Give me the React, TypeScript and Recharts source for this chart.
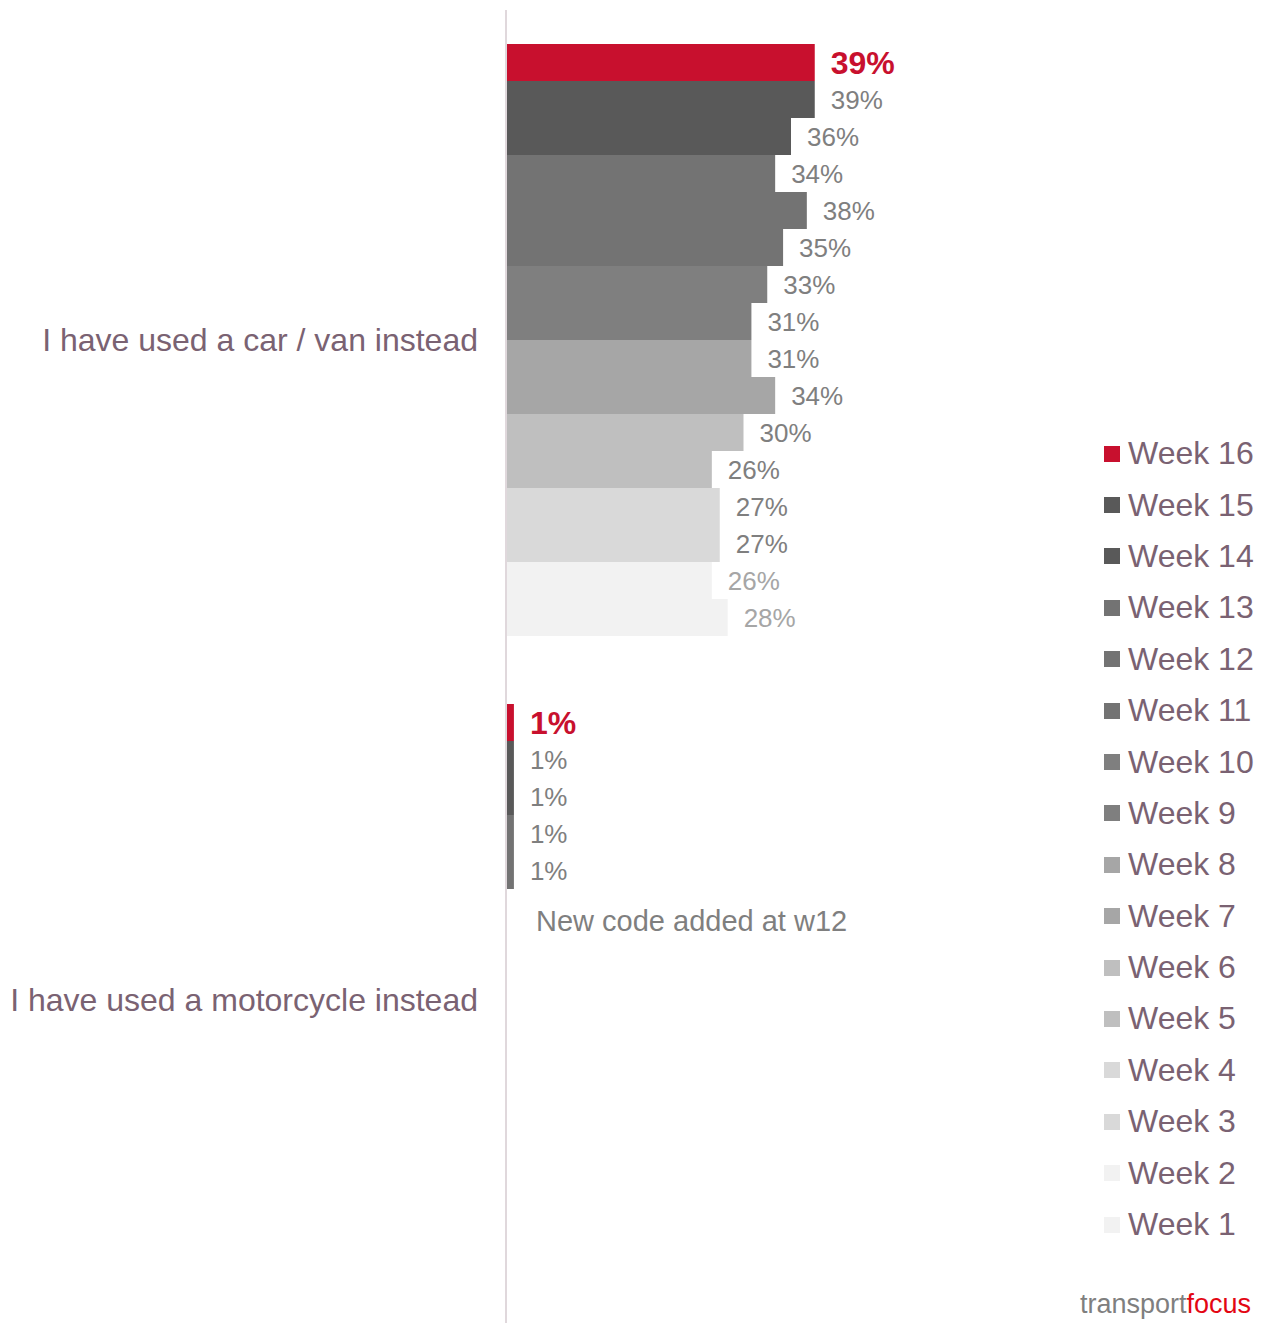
import React from 'react';
import { BarChart, Bar, XAxis, YAxis, Legend, LabelList } from 'recharts';

// categories (y axis)
const categories = ['I have used a car / van instead', 'I have used a motorcycle instead'];

// weeks, top bar first
const weeks = ['Week 16', 'Week 15', 'Week 14', 'Week 13', 'Week 12', 'Week 11', 'Week 10', 'Week 9',
    'Week 8', 'Week 7', 'Week 6', 'Week 5', 'Week 4', 'Week 3', 'Week 2', 'Week 1'];

// values in %, same order as weeks
const carVan = [39, 39, 36, 34, 38, 35, 33, 31, 31, 34, 30, 26, 27, 27, 26, 28];
const motorcycle = [1, 1, 1, 1, 1, null, null, null, null, null, null, null, null, null, null, null];

const weekColors = ['#c8102e', '#595959', '#595959', '#737373', '#737373', '#737373', '#7f7f7f', '#7f7f7f',
    '#a6a6a6', '#a6a6a6', '#bfbfbf', '#bfbfbf', '#d9d9d9', '#d9d9d9', '#f2f2f2', '#f2f2f2'];

const labelColors = ['#c8102e', '#7f7f7f', '#7f7f7f', '#7f7f7f', '#7f7f7f', '#7f7f7f', '#7f7f7f', '#7f7f7f',
    '#7f7f7f', '#7f7f7f', '#7f7f7f', '#7f7f7f', '#7f7f7f', '#7f7f7f', '#a6a6a6', '#a6a6a6'];

const seriesLists = [carVan, motorcycle];

const data = categories.map((name, ci) => {
    const row: { [key: string]: any } = { name };
    weeks.forEach((w, wi) => {
        row[w] = seriesLists[ci][wi];
    });
    return row;
});

const FONT = 'Arial, "Liberation Sans", sans-serif';
const PURPLE_GREY = '#7a6272';

const makeLabel = (wi: number) => (props: any) => {
    const { x, y, width, height, value } = props;
    if (value === null || value === undefined) return null;
    const isRed = wi === 0;
    return (
        <text
            x={x + width + 16}
            y={y + height / 2}
            dy="0.36em"
            fill={labelColors[wi]}
            fontSize={isRed ? 32 : 26}
            fontWeight={isRed ? 'bold' : 'normal'}
            fontFamily={FONT}
        >
            {`${value}%`}
        </text>
    );
};

const renderLegend = () => (
    <div style={{ fontFamily: FONT }}>
        {weeks.map((w, i) => (
            <div key={w} style={{ display: 'flex', alignItems: 'center', height: 51.4 }}>
                <div style={{ width: 16, height: 16, background: weekColors[i], marginRight: 8 }} />
                <span style={{ fontSize: 32, color: PURPLE_GREY }}>{w}</span>
            </div>
        ))}
    </div>
);

export default function App() {
    return (
        <div style={{ position: 'absolute', left: 0, top: 0, width: 1271, height: 1323, overflow: 'hidden', background: '#fff' }}>
            <BarChart
                width={1271}
                height={1330}
                data={data}
                layout="vertical"
                margin={{ top: 10, right: 123, left: 0, bottom: 0 }}
                barCategoryGap={34}
                barGap={0}
            >
                <XAxis type="number" domain={[0, 60]} hide />
                <YAxis
                    type="category"
                    dataKey="name"
                    width={506}
                    tickLine={false}
                    tickSize={0}
                    tickMargin={28}
                    axisLine={{ stroke: '#e0d8dc', strokeWidth: 2 }}
                    tick={{ fill: PURPLE_GREY, fontSize: 32, fontFamily: FONT }}
                    interval={0}
                />
                <Legend
                    layout="horizontal"
                    verticalAlign="middle"
                    align="right"
                    content={renderLegend}
                    wrapperStyle={{ left: 1104, top: 428, width: 167 }}
                />
                {weeks.map((w, i) => (
                    <Bar key={w} dataKey={w} fill={weekColors[i]} isAnimationActive={false}>
                        <LabelList dataKey={w} content={makeLabel(i)} />
                    </Bar>
                ))}
            </BarChart>
            <div style={{ position: 'absolute', left: 536, top: 905, fontFamily: FONT, fontSize: 29, color: '#7f7f7f', whiteSpace: 'nowrap' }}>
                New code added at w12
            </div>
            <div style={{ position: 'absolute', left: 1080, top: 1291, fontFamily: FONT, fontSize: 27, lineHeight: 1, whiteSpace: 'nowrap' }}>
                <span style={{ color: '#7f7f7f' }}>transport</span>
                <span style={{ color: '#e30613' }}>focus</span>
            </div>
        </div>
    );
}
